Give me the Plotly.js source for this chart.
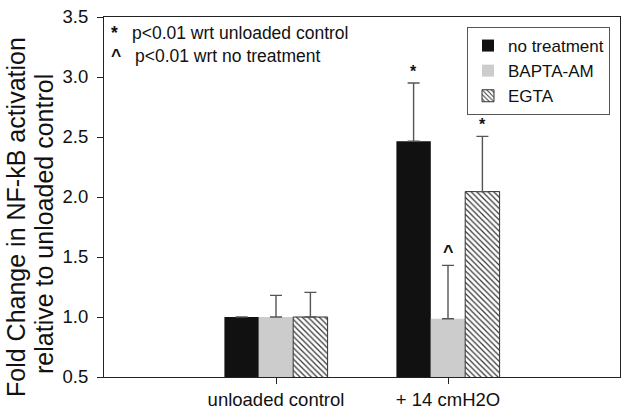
<!DOCTYPE html>
<html><head><meta charset="utf-8">
<script src="https://cdn.plot.ly/plotly-3.0.1.min.js"></script>
<style>html,body{margin:0;padding:0;background:#fff}#c{width:629px;height:415px}</style>
</head><body><div id="c"></div>
<script>
const categories = ["unloaded control", "+ 14 cmH2O"];
const seriesNames = ["no treatment", "BAPTA-AM", "EGTA"];
const noTreatment = [1.0, 2.465];
const baptaAM = [1.0, 0.985];
const egta = [1.0, 2.045];
const errNoTreatment = [0, 0.485];
const errBapta = [0.18, 0.445];
const errEgta = [0.205, 0.46];
const sigMarks = [["", "*"], ["", "^"], ["", "*"]];
const yTicks = [0.5, 1.0, 1.5, 2.0, 2.5, 3.0, 3.5];
const yTitleLines = ["Fold Change in NF-kB activation", "relative to unloaded control"];
const noteLines = [["*", "p<0.01 wrt unloaded control"], ["^", "p<0.01 wrt no treatment"]];

const font = "Liberation Sans, Arial, sans-serif";
const vals = [noTreatment, baptaAM, egta];
const errs = [errNoTreatment, errBapta, errEgta];
const fills = ["#111111", "#cccccc", "#ffffff"];
const traces = vals.map((v, i) => ({
  type: "bar", name: seriesNames[i], x: categories, y: v,
  marker: {
    color: fills[i],
    line: {color: i === 2 ? "#333" : fills[i], width: i === 2 ? 1 : 0},
    pattern: i === 2 ? {shape: "\\", fgcolor: "#333", bgcolor: "#fff", size: 4, solidity: 0.3} : undefined
  },
  error_y: {type: "data", symmetric: false, array: errs[i], arrayminus: [0, 0],
            color: "#555", thickness: 1.4, width: 6, visible: true}
}));

const annotations = [];
vals.forEach((v, i) => {
  categories.forEach((c, j) => {
    if (sigMarks[i][j]) {
      annotations.push({x: c, y: v[j] + errs[i][j], xref: "x", yref: "y",
        text: "<b>" + sigMarks[i][j] + "</b>", showarrow: false, yanchor: "bottom", yshift: 1,
        xshift: (i - 1) * 34.5,
        font: {family: font, size: sigMarks[i][j] === "^" ? 18 : 16, color: "#111"}});
    }
  });
});
noteLines.forEach((ln, k) => {
  annotations.push({xref: "paper", yref: "paper", x: 0.009, y: (377 - 33 - k * 23) / 360,
    xanchor: "left", yanchor: "middle",
    text: "<b>" + ln[0] + "</b>", showarrow: false, font: {family: font, size: 17.5, color: "#111"}});
  annotations.push({xref: "paper", yref: "paper", x: (130 + k * 3 - 104) / 516, y: (377 - 33 - k * 23) / 360,
    xanchor: "left", yanchor: "middle",
    text: ln[1], showarrow: false, font: {family: font, size: 17.5, color: "#111"}});
});
// y-axis title lines
[[16, 217], [44, 224]].forEach((p, k) => {
  annotations.push({xref: "paper", yref: "paper", x: (p[0] - 104) / 516, y: (377 - p[1]) / 360,
    xanchor: "center", yanchor: "middle", textangle: -90, showarrow: false,
    text: yTitleLines[k], font: {family: font, size: 25, color: "#111"}});
});

const layout = {
  width: 629, height: 415,
  margin: {l: 104, r: 9, t: 17, b: 38},
  paper_bgcolor: "#fff", plot_bgcolor: "#fff",
  barmode: "group", bargap: 0.4, bargroupgap: 0,
  showlegend: true,
  legend: {x: (467 - 104) / 516, y: (377 - 27) / 360, xanchor: "left", yanchor: "top", bgcolor: "#fff",
    bordercolor: "#555", borderwidth: 1, font: {family: font, size: 17, color: "#111"},
    tracegroupgap: 0, itemwidth: 30},
  xaxis: {type: "category", range: [-1, 2], showline: true, linecolor: "#222", linewidth: 1,
    mirror: true, ticks: "outside", ticklen: 6, tickcolor: "#222", showgrid: false,
    tickfont: {family: font, size: 18.5, color: "#111"}},
  yaxis: {range: [0.5, 3.5], tickvals: yTicks, ticktext: yTicks.map(t => t.toFixed(1)),
    showline: true, linecolor: "#222", linewidth: 1, mirror: true, ticks: "outside", ticklen: 6,
    tickcolor: "#222", showgrid: false, zeroline: false, ticklabelstandoff: 5,
    tickfont: {family: font, size: 18.5, color: "#111"}},
  annotations: annotations
};
Plotly.newPlot("c", traces, layout, {displayModeBar: false, staticPlot: true});
</script></body></html>
